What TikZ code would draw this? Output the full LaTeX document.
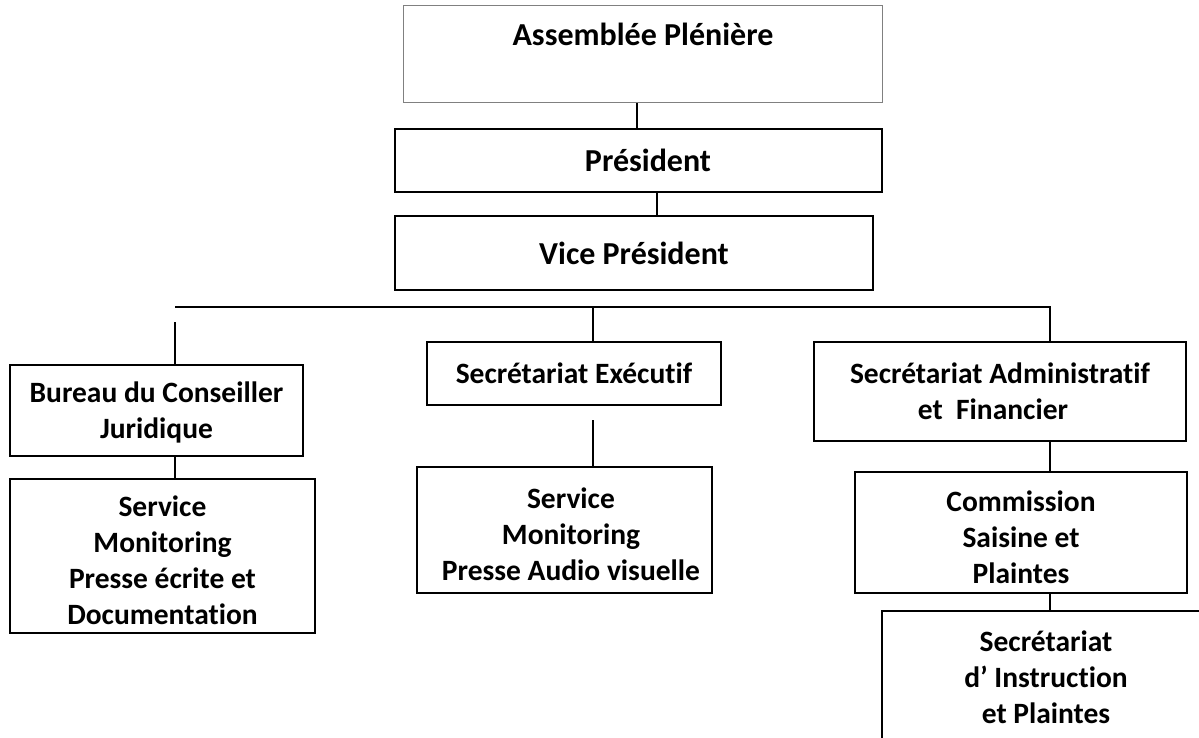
\documentclass[tikz,border=0pt]{standalone}
\usepackage{fontspec}
\setmainfont{Carlito}[Ligatures=NoCommon]
\begin{document}
\begin{tikzpicture}[x=1pt,y=-1pt,
  boxfont/.style={font=\bfseries\fontsize{29.5}{36}\selectfont},
  box/.style={draw=black, line width=1.9pt, inner sep=0pt, align=center, boxfont},
  bigbox/.style={box, font=\bfseries\fontsize{32}{38}\selectfont},
  plaintext/.style={inner sep=0pt, font=\bfseries\fontsize{32}{38}\selectfont},
  inner/.style={inner sep=0pt, align=center, boxfont},
  link/.style={draw=black, line width=1.9pt}]
\useasboundingbox[fill=white] (0,0) rectangle (1199,738);

% top chain
\node[box, draw=gray, line width=1pt, minimum width=479pt, minimum height=97pt] (ap) at (642.5,54.5) {};
\node[plaintext, anchor=base] (apt) at (643,46) {Assemblée Plénière};
\node[bigbox, minimum width=487pt, minimum height=63pt] (pr) at (638.5,160.5) {\hspace*{19pt}Président};
\node[bigbox, minimum width=478pt, minimum height=74pt] (vp) at (634,253) {Vice Président};

% second level
\node[box, minimum width=293pt, minimum height=91pt,
  label={[inner, yshift=-1.5pt]center:{Bureau du Conseiller\\Juridique}}] (bu) at (156.5,410.5) {};
\node[box, minimum width=294pt, minimum height=63pt] (ex) at (574,373.5) {Secrétariat Exécutif};
\node[box, minimum width=372pt, minimum height=99pt] (ad) at (1000,391.5) {Secrétariat Administratif\\et~~Financier\hspace*{14pt}};

% third level
\node[box, minimum width=305pt, minimum height=154pt,
  label={[inner, yshift=-4pt]center:{Service\\Monitoring\\Presse écrite et\\Documentation}}] (sm) at (162.5,556) {};
\node[box, minimum width=295pt, minimum height=126pt,
  label={[inner, yshift=-4.5pt, xshift=6.5pt]center:{Service\\Monitoring\\Presse Audio visuelle}}] (au) at (564.5,530) {};
\node[box, minimum width=332pt, minimum height=121pt,
  label={[inner, yshift=-5pt]center:{Commission\\Saisine et\\Plaintes}}] (co) at (1021,532.5) {};

% fourth level (cut by the page edge)
\begin{scope}
\clip (0,0) rectangle (1199,738);
\node[box, minimum width=328pt, minimum height=132pt] (si) at (1046,677) {Secrétariat\\d’ Instruction\\et Plaintes};
\end{scope}

% connectors
\coordinate (apc) at (637,0);
\coordinate (prc) at (657,0);
\coordinate (busL) at (175,307);
\coordinate (busR) at (1050,307);
\coordinate (exc) at (593,307);
\coordinate (buTop) at (175,322);
\coordinate (auTop) at (593,420);

\draw[link] (ap.south -| apc) -- (pr.north -| apc);
\draw[link] (pr.south -| prc) -- (vp.north -| prc);
\draw[link] (busL) -- (busR) -- (ad.north -| busR);
\draw[link] (exc) -- (ex.north -| exc);
\draw[link] (buTop) -- (bu.north -| buTop);
\draw[link] (bu.south -| buTop) -- (sm.north -| buTop);
\draw[link] (auTop) -- (au.north -| auTop);
\draw[link] (ad.south -| busR) -- (co.north -| busR);
\draw[link] (co.south -| busR) -- (si.north -| busR);
\end{tikzpicture}
\end{document}
